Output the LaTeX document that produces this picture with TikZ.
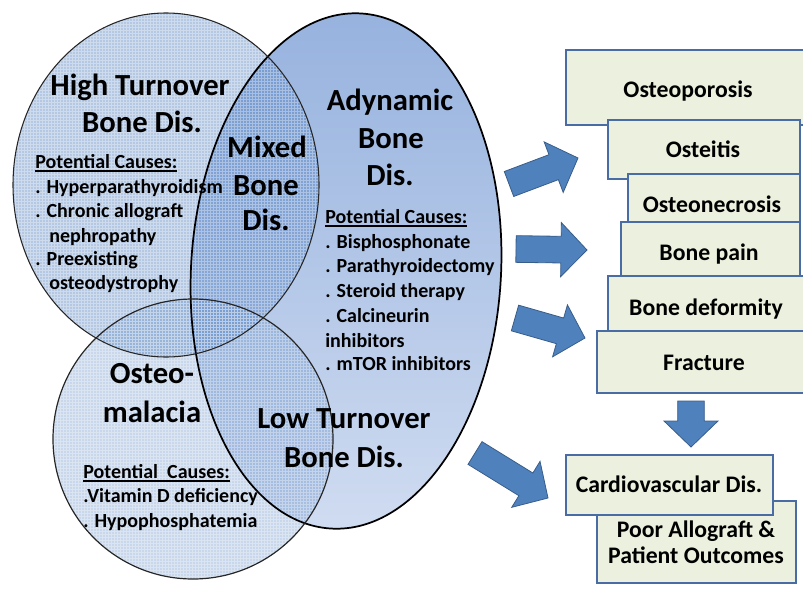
\documentclass[tikz,border=0pt]{standalone}
\usepackage{fontspec}
\setmainfont{Carlito}
\usetikzlibrary{calc}
\definecolor{adytop}{RGB}{150,178,222}
\definecolor{adybot}{RGB}{208,220,241}
\definecolor{htfill}{RGB}{68,118,188}
\definecolor{omfill}{RGB}{98,141,198}
\definecolor{boxfill}{RGB}{235,241,222}
\definecolor{boxline}{RGB}{74,108,165}
\definecolor{arrfill}{RGB}{79,129,189}
\definecolor{arrline}{RGB}{56,93,138}
\newcommand\ulx[1]{\setbox0\hbox{#1}\rlap{\vrule width\wd0 height -1.8pt depth 3pt}\box0}
\newcommand\bluearrow[2]{%
  \coordinate (hb) at ($(#2)!19.5pt!(#1)$);
  \filldraw[arrowshape] ($(#1)!10pt!90:(#2)$) -- ($(hb)!10pt!90:(#2)$) -- ($(hb)!20.25pt!90:(#2)$) -- (#2)
    -- ($(hb)!20.25pt!-90:(#2)$) -- ($(hb)!10pt!-90:(#2)$) -- ($(#1)!10pt!-90:(#2)$) -- cycle;}
\begin{document}
\begin{tikzpicture}[x=0.75pt,y=-0.75pt,
  big/.style={font=\fontsize{23}{27}\selectfont\bfseries, inner sep=0pt, anchor=base},
  cause/.style={font=\fontsize{15}{18}\selectfont\bfseries, inner sep=0pt, anchor=base west},
  boxtext/.style={font=\fontsize{17.8}{21}\selectfont\bfseries, inner sep=0pt, anchor=base},
  box/.style={draw=boxline, fill=boxfill, line width=1.3pt, anchor=north west, inner sep=0pt},
  arrowshape/.style={fill=arrfill, draw=arrline, line width=0.6pt, line join=miter},
  gridlines/.style={draw=white, opacity=0.35, line width=0.35pt}]
\useasboundingbox (0,0) rectangle (803,589);
\clip (0,0) rectangle (803,589);
% ---- Venn fills
\shade[top color=adytop, bottom color=adybot, rotate around={-3.3:(346,271)}] (346,271) ellipse [x radius=155, y radius=258];
\fill[htfill, opacity=0.4] (166,185) ellipse [x radius=153, y radius=172];
\begin{scope}
  \clip (166,185) ellipse [x radius=153, y radius=172];
  \draw[gridlines, step=2.25pt] (0,0) grid (330,370);
\end{scope}
\fill[omfill, opacity=0.35] (193,439) ellipse [x radius=140, y radius=140];
\begin{scope}
  \clip (193,439) ellipse [x radius=140, y radius=140];
  \draw[gridlines, step=2.25pt] (40,290) grid (340,589);
\end{scope}
% ---- Venn borders
\draw[black, line width=1.3pt, rotate around={-3.3:(346,271)}] (346,271) ellipse [x radius=155, y radius=258];
\draw[black!85, line width=0.8pt] (166,185) ellipse [x radius=153, y radius=172];
\draw[black!85, line width=0.9pt] (193,439) ellipse [x radius=140, y radius=140];
% ---- Venn texts
\node[big] (ht1) at (140,95) {High Turnover};
\node[big] (ht2) at (142,132) {Bone Dis.};
\node[big] (mx1) at (267,157) {Mixed};
\node[big] (mx2) at (266,195) {Bone};
\node[big] (mx3) at (266,230) {Dis.};
\node[big] (ad1) at (390,110) {Adynamic};
\node[big] (ad2) at (391,148) {Bone};
\node[big] (ad3) at (390,185) {Dis.};
\node[big] (om1) at (152,383) {Osteo-};
\node[big] (om2) at (152,422) {malacia};
\node[big] (lt1) at (344,428) {Low Turnover};
\node[big] (lt2) at (344,467) {Bone Dis.};
\node[cause] (hc0) at (35,168) {\ulx{Potential Causes:}};
\node[cause] (hc1) at (35,193) {. Hyperparathyroidism};
\node[cause] (hc2) at (35,217) {. Chronic allograft};
\node[cause] (hc3) at (49,242) {nephropathy};
\node[cause] (hc4) at (35,265) {. Preexisting};
\node[cause] (hc5) at (49,289) {osteodystrophy};
\node[cause] (ac0) at (325,223) {\ulx{Potential Causes:}};
\node[cause] (ac1) at (325,248) {. Bisphosphonate};
\node[cause] (ac2) at (325,272) {. Parathyroidectomy};
\node[cause] (ac3) at (325,297) {. Steroid therapy};
\node[cause] (ac4) at (325,322) {. Calcineurin};
\node[cause] (ac5) at (325,347) {inhibitors};
\node[cause] (ac6) at (325,370) {. mTOR inhibitors};
\node[cause] (oc0) at (83,478) {\ulx{Potential\ \ Causes:}};
\node[cause] (oc1) at (83,502) {.Vitamin D deficiency};
\node[cause] (oc2) at (83,527) {. Hypophosphatemia};
% ---- boxes
\node[box, minimum width=187.5pt, minimum height=56.25pt] (osteop) at (565,49) {};
\node[box, minimum width=144pt, minimum height=44.25pt] (osteit) at (607,119) {};
\node[box, minimum width=129pt, minimum height=39.75pt] (osteon) at (627,173) {};
\node[box, minimum width=134.25pt, minimum height=41.25pt] (bpain) at (620,221) {};
\node[box, minimum width=156pt, minimum height=42.75pt] (bdef) at (607,275) {};
\node[box, minimum width=164.25pt, minimum height=46.5pt] (fract) at (596,330) {};
\node[box, minimum width=149.25pt, minimum height=61.5pt] (poor) at (596,500) {};
\node[box, minimum width=155.25pt, minimum height=45pt] (cardio) at (565,454) {};
\node[boxtext] (tosteop) at (688,97) {Osteoporosis};
\node[boxtext] (tosteit) at (703,157) {Osteitis};
\node[boxtext] (tosteon) at (712,212) {Osteonecrosis};
\node[boxtext] (tbpain) at (709,260) {Bone pain};
\node[boxtext] (tbdef) at (706,315) {Bone deformity};
\node[boxtext] (tfract) at (704,370) {Fracture};
\node[boxtext] (tcardio) at (669,492) {Cardiovascular Dis.};
\node[boxtext] (tpoor1) at (696,537) {Poor Allograft \&};
\node[boxtext] (tpoor2) at (696,563) {Patient Outcomes};
% ---- block arrows
\coordinate (a1t) at (509,184); \coordinate (a1h) at (578,158);
\coordinate (a2t) at (516,249); \coordinate (a2h) at (587,250);
\coordinate (a3t) at (515,318); \coordinate (a3h) at (585,338);
\coordinate (a4t) at (475,453); \coordinate (a4h) at (548,498);
\coordinate (a5t) at (691,401); \coordinate (a5h) at (691,447);
\bluearrow{a1t}{a1h}
\bluearrow{a2t}{a2h}
\bluearrow{a3t}{a3h}
\bluearrow{a4t}{a4h}
\bluearrow{a5t}{a5h}
\end{tikzpicture}
\end{document}
